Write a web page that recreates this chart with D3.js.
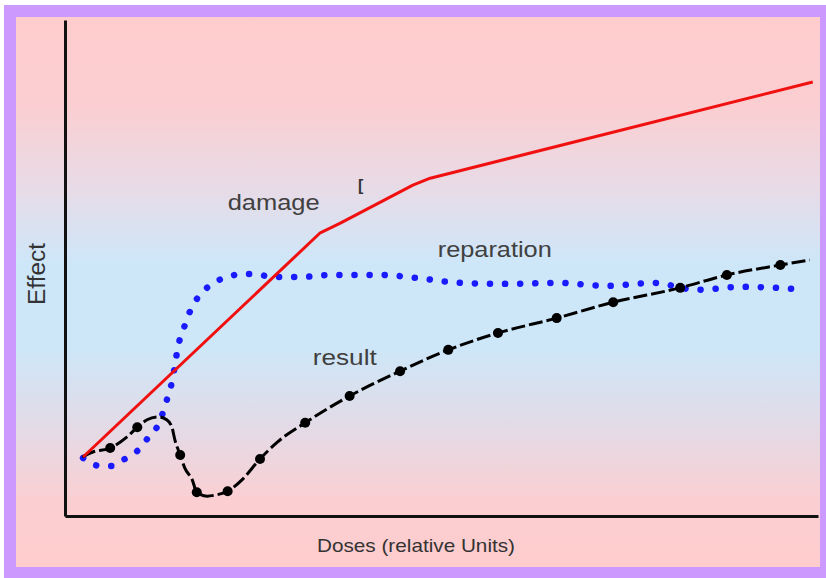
<!DOCTYPE html>
<html>
<head>
<meta charset="utf-8">
<script src="https://cdn.jsdelivr.net/npm/d3@7"></script>
<style>
  html, body { margin: 0; padding: 0; background: #ffffff; }
  svg { display: block; }
  text { font-family: "Liberation Sans", Arial, sans-serif; }
</style>
</head>
<body>
<svg id="chart" width="826" height="578"></svg>
<script>
// ---- data (dose in relative units 0..100, effect 0..100) ----
const damageDose   = [2.4, 33.9, 36.5, 46.2, 48.5, 99.3];
const damageEffect = [11.9, 57.1, 59.0, 66.7, 68.1, 87.5];

const reparationDose   = [2.4, 4.6, 6.2, 7.7, 8.9, 10.0, 11.0, 12.2, 12.9, 13.4, 13.8, 14.2, 14.6, 15.0, 15.7, 16.5, 17.4, 18.7, 20.2, 21.6, 23.5, 25.0, 27.6, 31.5, 35.2, 41.8, 47.8, 52.5, 58.8, 65.5, 72.0, 78.1, 83.9, 90.0, 98.4];
const reparationEffect = [11.7, 10.1, 10.1, 11.3, 12.3, 13.7, 15.7, 17.9, 20.4, 22.8, 24.8, 27.0, 30.4, 34.1, 37.5, 40.9, 43.5, 45.8, 47.4, 48.2, 48.8, 48.8, 48.2, 48.2, 48.6, 48.6, 47.8, 47.0, 46.8, 47.0, 46.4, 47.0, 45.6, 46.2, 45.6];

const resultDose   = [2.3, 3.7, 6.0, 8.2, 9.6, 10.9, 12.4, 13.5, 14.2, 14.6, 15.3, 15.9, 16.9, 17.5, 18.9, 19.9, 21.6, 23.5, 25.9, 28.2, 31.9, 37.8, 44.5, 50.9, 57.5, 65.3, 72.8, 81.7, 87.9, 95.0, 98.9];
const resultEffect = [11.9, 12.9, 13.7, 15.9, 17.9, 19.4, 20.0, 19.4, 17.9, 15.3, 12.3, 9.7, 7.3, 4.8, 4.0, 4.2, 5.0, 7.3, 11.5, 14.9, 18.8, 24.2, 29.2, 33.5, 36.9, 39.9, 43.1, 46.0, 48.6, 50.6, 51.6];
// indices of result points that carry a round marker
const resultMarkers = [2, 4, 10, 13, 16, 18, 20, 21, 22, 23, 24, 25, 26, 27, 28, 29];

const labels = [
  { text: "damage",     dose: 21.6, effect: 61.7, len: 92 },
  { text: "reparation", dose: 49.5, effect: 52.2, len: 114 },
  { text: "result",     dose: 32.9, effect: 30.4, len: 64 }
];
const xTitle = "Doses (relative Units)";
const yTitle = "Effect";

// ---- layout ----
const svg = d3.select("#chart");
const W = 826, H = 578;
const plot = { left: 65, right: 818, top: 20, bottom: 516 };

const defs = svg.append("defs");
const grad = defs.append("linearGradient")
  .attr("id", "bg").attr("x1", 0).attr("y1", 0).attr("x2", 0).attr("y2", 1);
[
  [0, "#fecccd"], [0.16, "#fbced1"], [0.32, "#e6dce8"], [0.45, "#cde7f9"],
  [0.6, "#cde7f8"], [0.74, "#e2dbe7"], [0.88, "#fbcfd2"], [1, "#fecccd"]
].forEach(([o, c]) => grad.append("stop").attr("offset", o).attr("stop-color", c));

svg.append("rect").attr("x", 0).attr("y", 0).attr("width", W).attr("height", H).attr("fill", "#ffffff");
svg.append("rect").attr("x", 4).attr("y", 5).attr("width", W - 4).attr("height", H - 5).attr("fill", "#cc99ff");
svg.append("rect").attr("x", 16).attr("y", 17).attr("width", 804).attr("height", 550).attr("fill", "url(#bg)");

const x = d3.scaleLinear().domain([0, 100]).range([plot.left, plot.right]);
const y = d3.scaleLinear().domain([0, 100]).range([plot.bottom, plot.top]);

// ---- curves ----
const smooth = d3.line().x(d => x(d[0])).y(d => y(d[1])).curve(d3.curveMonotoneX);
const straight = d3.line().x(d => x(d[0])).y(d => y(d[1]));

const damage = damageDose.map((d, i) => [d, damageEffect[i]]);
const reparation = reparationDose.map((d, i) => [d, reparationEffect[i]]);
const result = resultDose.map((d, i) => [d, resultEffect[i]]);

svg.append("path").datum(reparation)
  .attr("d", smooth).attr("fill", "none")
  .attr("stroke", "#1a1aff").attr("stroke-width", 6.5)
  .attr("stroke-linecap", "round").attr("stroke-dasharray", "0.1,15");

svg.append("path").datum(result)
  .attr("d", smooth).attr("fill", "none")
  .attr("stroke", "#000000").attr("stroke-width", 3)
  .attr("stroke-dasharray", "14,4");

svg.append("g").selectAll("circle")
  .data(resultMarkers.map(i => result[i]))
  .join("circle")
  .attr("cx", d => x(d[0])).attr("cy", d => y(d[1]))
  .attr("r", 5).attr("fill", "#000000");

svg.append("path").datum(damage)
  .attr("d", straight).attr("fill", "none")
  .attr("stroke", "#f01010").attr("stroke-width", 3)
  .attr("stroke-linejoin", "round");

// ---- axes (plain lines, no ticks) ----
const xAxis = d3.axisBottom(x).tickValues([]).tickSizeOuter(0);
const yAxis = d3.axisLeft(y).tickValues([]).tickSizeOuter(0);
svg.append("g").attr("transform", `translate(0,${plot.bottom})`).call(xAxis)
  .select(".domain").attr("stroke", "#111").attr("stroke-width", 3);
svg.append("g").attr("transform", `translate(${plot.left},0)`).call(yAxis)
  .select(".domain").attr("stroke", "#111").attr("stroke-width", 3);

// ---- text ----
svg.append("g").selectAll("text").data(labels).join("text")
  .attr("x", d => x(d.dose)).attr("y", d => y(d.effect))
  .attr("font-size", 22).attr("fill", "#404040")
  .attr("textLength", d => d.len).attr("lengthAdjust", "spacingAndGlyphs")
  .text(d => d.text);

svg.append("text").attr("x", 358).attr("y", 191)
  .attr("font-size", 16).attr("font-weight", "bold").attr("fill", "#333")
  .text("[");

svg.append("text")
  .attr("x", 317).attr("y", 552)
  .attr("font-size", 19).attr("fill", "#333")
  .attr("textLength", 198).attr("lengthAdjust", "spacingAndGlyphs")
  .text(xTitle);

svg.append("text")
  .attr("transform", "translate(45,305) rotate(-90)")
  .attr("font-size", 23).attr("fill", "#333")
  .attr("textLength", 62).attr("lengthAdjust", "spacingAndGlyphs")
  .text(yTitle);
</script>
</body>
</html>
